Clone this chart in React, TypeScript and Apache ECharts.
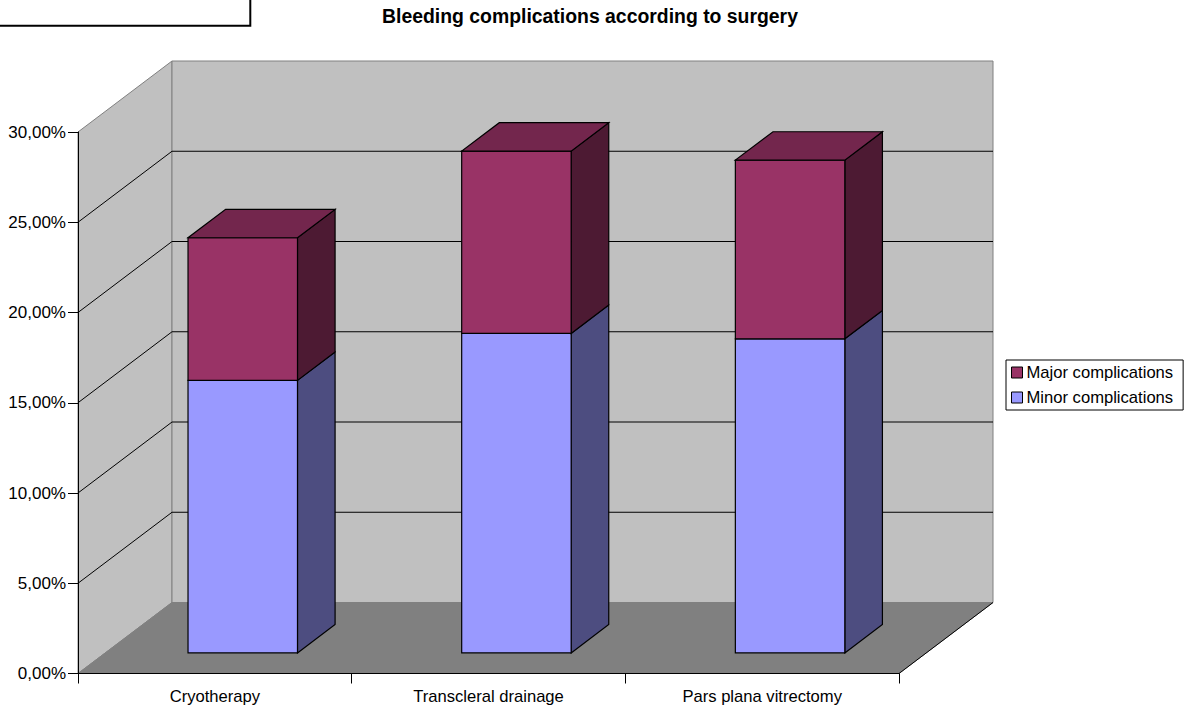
import React, { useEffect, useRef } from "react";
import * as echarts from "echarts";

const categories = ["Cryotherapy", "Transcleral drainage", "Pars plana vitrectomy"];
const minorValues = [15.1, 17.7, 17.4];
const majorValues = [7.9, 10.1, 9.9];
const yTicks = [5, 10, 15, 20, 25];
const FONT = "'Liberation Sans', Arial, sans-serif";
const DEPTH_X = 94;
const DEPTH_Y = -71;
const BAR_WIDTH = 0.4;
const F0 = 0.297;
const F1 = 0.697;

function wallRender(_p: any, api: any) {
  const band = api.size([1, 0])[0];
  const [xc0, y0] = api.coord([0, 0]);
  const [, yTop] = api.coord([0, 30]);
  const x0 = xc0 - band / 2;
  const x1 = x0 + band * categories.length;
  const dx = DEPTH_X, dy = DEPTH_Y;
  const poly = (pts: number[][], fill: string, stroke: string) => ({
    type: "polygon",
    shape: { points: pts },
    style: { fill, stroke, lineWidth: 1 },
  });
  const children: any[] = [
    poly([[x0, yTop], [x0 + dx, yTop + dy], [x0 + dx, y0 + dy], [x0, y0]], "#C0C0C0", "#808080"),
    poly([[x0 + dx, yTop + dy], [x1 + dx, yTop + dy], [x1 + dx, y0 + dy], [x0 + dx, y0 + dy]], "#C0C0C0", "#808080"),
    poly([[x0, y0], [x0 + dx, y0 + dy], [x1 + dx, y0 + dy], [x1, y0]], "#808080", "#808080"),
    { type: "line", shape: { x1, y1: y0, x2: x1 + dx, y2: y0 + dy }, style: { stroke: "#000", lineWidth: 1 } },
  ];
  yTicks.forEach((t) => {
    const y = api.coord([0, t])[1];
    children.push({
      type: "polyline",
      shape: { points: [[x0, y], [x0 + dx, y + dy], [x1 + dx, y + dy]] },
      style: { stroke: "#000", fill: "none", lineWidth: 1 },
    });
  });
  return { type: "group", children };
}

const barRender = (front: string, side: string, top: string | null) => (_p: any, api: any) => {
  const band = api.size([1, 0])[0];
  const cat = api.value(0);
  const c0 = api.coord([cat, api.value(1)]);
  const c1 = api.coord([cat, api.value(2)]);
  const w = band * BAR_WIDTH;
  const sx = c0[0] - w / 2 + DEPTH_X * F0;
  const ex = sx + w;
  const yb = c0[1] + DEPTH_Y * 0.29;
  const yt = c1[1] + DEPTH_Y * 0.29;
  const ddx = DEPTH_X * (F1 - F0);
  const ddy = DEPTH_Y * (F1 - F0);
  const border = { stroke: "#000", lineWidth: 1.2, lineJoin: "miter" };
  const children: any[] = [
    { type: "polygon", shape: { points: [[ex, yb], [ex + ddx, yb + ddy], [ex + ddx, yt + ddy], [ex, yt]] }, style: { fill: side, ...border } },
    { type: "polygon", shape: { points: [[sx, yb], [ex, yb], [ex, yt], [sx, yt]] }, style: { fill: front, ...border } },
  ];
  if (top) {
    children.push({ type: "polygon", shape: { points: [[sx, yt], [ex, yt], [ex + ddx, yt + ddy], [sx + ddx, yt + ddy]] }, style: { fill: top, ...border } });
  }
  return { type: "group", children };
};

export default function App() {
  const ref = useRef<HTMLDivElement>(null);
  useEffect(() => {
    const chart = echarts.init(ref.current!, null, { renderer: "svg" });
    chart.setOption({
      animation: false,
      backgroundColor: "#fff",
      title: {
        text: "Bleeding complications according to surgery",
        left: 590,
        top: 6,
        textAlign: "center",
        padding: 0,
        textStyle: { fontFamily: FONT, fontSize: 19.4, fontWeight: "bold", color: "#000" },
      },
      grid: { left: 78, top: 132, width: 821, height: 541.5 },
      legend: {
        show: true,
        data: [
          { name: "Major complications", itemStyle: { color: "#993366", borderColor: "#000", borderWidth: 1 } },
          { name: "Minor complications", itemStyle: { color: "#9999FF", borderColor: "#000", borderWidth: 1 } },
        ],
        orient: "vertical",
        left: 1006,
        top: 360,
        padding: [4, 10, 4, 5],
        itemGap: 8,
        itemWidth: 11,
        itemHeight: 11,
        borderColor: "#000",
        borderWidth: 1,
        selectedMode: false,
        icon: "rect",
        textStyle: { fontFamily: FONT, fontSize: 16.6, color: "#000", padding: [0, 0, 0, -1] },
      },
      xAxis: {
        type: "category",
        data: categories,
        z: 5,
        axisLine: { lineStyle: { color: "#000", width: 1 } },
        axisTick: { show: true, length: 10, lineStyle: { color: "#000" }, alignWithLabel: false },
        axisLabel: { fontFamily: FONT, fontSize: 16.6, color: "#000", margin: 14 },
      },
      yAxis: {
        type: "value",
        min: 0,
        max: 30,
        interval: 5,
        z: 5,
        splitLine: { show: false },
        axisLine: { show: true, lineStyle: { color: "#000", width: 1 } },
        axisTick: { show: true, length: 10, lineStyle: { color: "#000" } },
        axisLabel: {
          fontFamily: FONT,
          fontSize: 17,
          color: "#000",
          margin: 12,
          formatter: (v: number) => v.toFixed(2).replace(".", ",") + "%",
        },
      },
      series: [
        {
          type: "custom",
          name: "walls",
          silent: true,
          clip: false,
          z: 1,
          renderItem: wallRender,
          data: [[0, 0, 30]],
          encode: { x: 0, y: [1, 2] },
        },
        {
          type: "custom",
          name: "Minor complications",
          clip: false,
          z: 2,
          itemStyle: { color: "#9999FF" },
          renderItem: barRender("#9999FF", "#4D4D80", null),
          data: categories.map((_, i) => [i, 0, minorValues[i]]),
          encode: { x: 0, y: [1, 2] },
        },
        {
          type: "custom",
          name: "Major complications",
          clip: false,
          z: 3,
          itemStyle: { color: "#993366" },
          renderItem: barRender("#993366", "#4D1A33", "#73264D"),
          data: categories.map((_, i) => [i, minorValues[i], minorValues[i] + majorValues[i]]),
          encode: { x: 0, y: [1, 2] },
        },
      ],
      graphic: [
        {
          type: "rect",
          z: 20,
          shape: { x: -5, y: -5, width: 255.3, height: 30.7 },
          style: { fill: "#fff", stroke: "#000", lineWidth: 2 },
        },
      ],
    });
    return () => chart.dispose();
  }, []);
  return <div ref={ref} style={{ position: "absolute", left: 0, top: 0, width: 1187, height: 710 }} />;
}
